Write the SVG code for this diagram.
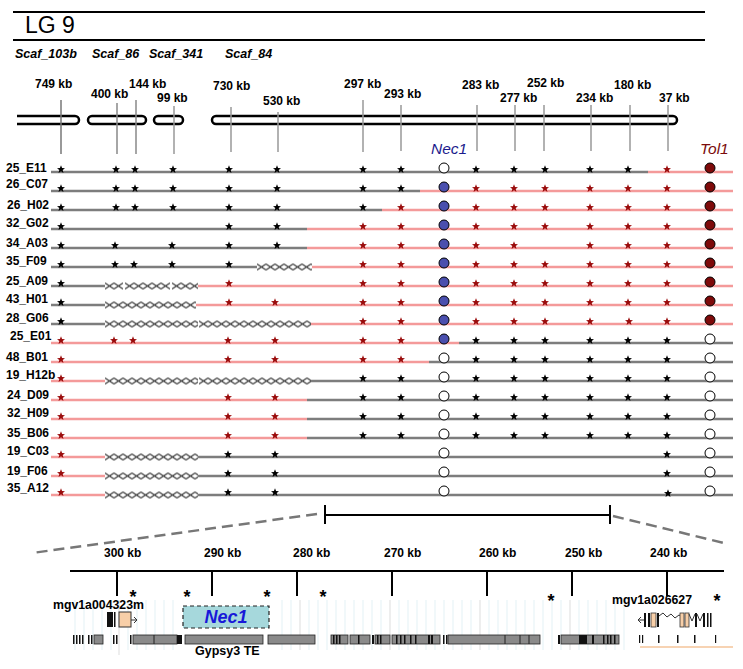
<svg xmlns="http://www.w3.org/2000/svg" width="743" height="669" viewBox="0 0 743 669">
<style>
text{font-family:"Liberation Sans",Arial,sans-serif;fill:#000}
.lb{font-size:12px;font-weight:bold}
.kb{font-size:12px;font-weight:bold}
.sc{font-size:12.5px;font-weight:bold;font-style:italic}
.g{stroke:#7d7d7d;stroke-width:2.5;fill:none}
.p{stroke:#f49a9a;stroke-width:2.5;fill:none}
.k{fill:#000}
.r{fill:#9a0c0c}
.cw{fill:#fff;stroke:#000;stroke-width:1}
.cb{fill:#4a4fae;stroke:#000;stroke-width:1}
.cr{fill:#7e0a0a;stroke:#000;stroke-width:1}
.vl{stroke:#999;stroke-width:1.5}
.bar{fill:#fff;stroke:#000;stroke-width:2.5}
.tk{stroke:#000;stroke-width:2}
.ast{font-size:18px;font-weight:bold}
.tg{fill:#8a8a8a;stroke:#222;stroke-width:0.8}
.tb{fill:#111}
.grid{stroke:#e3f1f5;stroke-width:1}
</style>
<defs>
<path id="s" d="M0,-4.2 L1.06,-1.46 L3.99,-1.3 L1.71,0.56 L2.47,3.4 L0,1.8 L-2.47,3.4 L-1.71,0.56 L-3.99,-1.3 L-1.06,-1.46 Z"/>
<pattern id="xp" patternUnits="userSpaceOnUse" width="9" height="7">
<path d="M0,0.6 L9,6.4 M0,6.4 L9,0.6" stroke="#3a3a3a" stroke-width="1.2" fill="none"/>
</pattern>
</defs>

<g id="header">
<line x1="13" y1="12" x2="705" y2="12" stroke="#000" stroke-width="2"/>
<line x1="13" y1="40" x2="705" y2="40" stroke="#000" stroke-width="2"/>
<text x="25" y="33" style="font-size:23px">LG 9</text>
</g>

<g id="scaffolds">
<text class="sc" x="15" y="58">Scaf_103b</text>
<text class="sc" x="92" y="58">Scaf_86</text>
<text class="sc" x="149" y="58">Scaf_341</text>
<text class="sc" x="225" y="58">Scaf_84</text>
<path class="bar" d="M17,116 H75 A4,4 0 0 1 75,124 H17"/>
<rect class="bar" x="88" y="116" width="58" height="8" rx="4"/>
<rect class="bar" x="154" y="116" width="29" height="8" rx="4"/>
<rect class="bar" x="212" y="116" width="465" height="8" rx="4"/>
</g>

<g id="markers">
<line class="vl" x1="61" y1="100" x2="61" y2="154" style="stroke:#777"/>
<line class="vl" x1="117" y1="103" x2="117" y2="154" style="stroke:#888"/>
<line class="vl" x1="136" y1="100" x2="136" y2="154" style="stroke:#888"/>
<line class="vl" x1="174" y1="106" x2="174" y2="154"/>
<line class="vl" x1="231" y1="107" x2="231" y2="152"/>
<line class="vl" x1="278" y1="112" x2="278" y2="152"/>
<line class="vl" x1="363" y1="100" x2="363" y2="152"/>
<line class="vl" x1="401" y1="105" x2="401" y2="151"/>
<line class="vl" x1="477" y1="105" x2="477" y2="151"/>
<line class="vl" x1="515" y1="105" x2="515" y2="151"/>
<line class="vl" x1="544" y1="105" x2="544" y2="151"/>
<line class="vl" x1="591" y1="105" x2="591" y2="151"/>
<line class="vl" x1="630" y1="105" x2="630" y2="151"/>
<line class="vl" x1="668" y1="105" x2="668" y2="151"/>
<text class="kb" x="35" y="88">749 kb</text>
<text class="kb" x="91" y="98">400 kb</text>
<text class="kb" x="129" y="88">144 kb</text>
<text class="kb" x="157" y="102">99 kb</text>
<text class="kb" x="213" y="90">730 kb</text>
<text class="kb" x="263" y="105">530 kb</text>
<text class="kb" x="344" y="88">297 kb</text>
<text class="kb" x="384" y="98">293 kb</text>
<text class="kb" x="462" y="89">283 kb</text>
<text class="kb" x="527" y="87">252 kb</text>
<text class="kb" x="500" y="102">277 kb</text>
<text class="kb" x="576" y="102">234 kb</text>
<text class="kb" x="614" y="89">180 kb</text>
<text class="kb" x="659" y="102">37 kb</text>
<text x="431" y="154" style="font-size:15.5px;font-style:italic;fill:#1b1b8c">Nec1</text>
<text x="700" y="154" style="font-size:15.5px;font-style:italic;fill:#7b0c0c">Tol1</text>
</g>

<g id="row-25_E11">
<text class="lb" x="6" y="172">25_E11</text>
<line class="g" x1="51" y1="172" x2="648" y2="172"/><line class="p" x1="648" y1="172" x2="733" y2="172"/>
<g class="k" transform="translate(0,169.5)"><use href="#s" x="61"/><use href="#s" x="116"/><use href="#s" x="135"/><use href="#s" x="173"/><use href="#s" x="229"/><use href="#s" x="277"/><use href="#s" x="363"/><use href="#s" x="401"/><use href="#s" x="476"/><use href="#s" x="514"/><use href="#s" x="545"/><use href="#s" x="590"/><use href="#s" x="628"/></g>
<g class="r" transform="translate(0,169.5)"><use href="#s" x="667"/></g>
<circle class="cw" cx="444" cy="168" r="5"/><circle class="cr" cx="710" cy="168" r="5"/>
</g>

<g id="row-26_C07">
<text class="lb" x="6" y="188">26_C07</text>
<line class="g" x1="51" y1="191" x2="420" y2="191"/><line class="p" x1="420" y1="191" x2="733" y2="191"/>
<g class="k" transform="translate(0,188.5)"><use href="#s" x="61"/><use href="#s" x="116"/><use href="#s" x="135"/><use href="#s" x="173"/><use href="#s" x="229"/><use href="#s" x="277"/><use href="#s" x="363"/><use href="#s" x="401"/></g>
<g class="r" transform="translate(0,188.5)"><use href="#s" x="476"/><use href="#s" x="514"/><use href="#s" x="545"/><use href="#s" x="590"/><use href="#s" x="628"/><use href="#s" x="667"/></g>
<circle class="cb" cx="444" cy="187" r="5"/><circle class="cr" cx="710" cy="187" r="5"/>
</g>

<g id="row-26_H02">
<text class="lb" x="7" y="209">26_H02</text>
<line class="g" x1="51" y1="210" x2="382" y2="210"/><line class="p" x1="382" y1="210" x2="733" y2="210"/>
<g class="k" transform="translate(0,207.5)"><use href="#s" x="61"/><use href="#s" x="116"/><use href="#s" x="135"/><use href="#s" x="173"/><use href="#s" x="229"/><use href="#s" x="277"/><use href="#s" x="363"/></g>
<g class="r" transform="translate(0,207.5)"><use href="#s" x="401"/><use href="#s" x="476"/><use href="#s" x="514"/><use href="#s" x="545"/><use href="#s" x="590"/><use href="#s" x="628"/><use href="#s" x="667"/></g>
<circle class="cb" cx="444" cy="206" r="5"/><circle class="cr" cx="710" cy="206" r="5"/>
</g>

<g id="row-32_G02">
<text class="lb" x="6" y="227">32_G02</text>
<line class="g" x1="51" y1="229" x2="307" y2="229"/><line class="p" x1="307" y1="229" x2="733" y2="229"/>
<g class="k" transform="translate(0,226.5)"><use href="#s" x="61"/><use href="#s" x="229"/><use href="#s" x="277"/></g>
<g class="r" transform="translate(0,226.5)"><use href="#s" x="363"/><use href="#s" x="401"/><use href="#s" x="476"/><use href="#s" x="514"/><use href="#s" x="545"/><use href="#s" x="590"/><use href="#s" x="628"/><use href="#s" x="667"/></g>
<circle class="cb" cx="444" cy="225" r="5"/><circle class="cr" cx="710" cy="225" r="5"/>
</g>

<g id="row-34_A03">
<text class="lb" x="6" y="247">34_A03</text>
<line class="g" x1="51" y1="248" x2="307" y2="248"/><line class="p" x1="307" y1="248" x2="733" y2="248"/>
<g class="k" transform="translate(0,245.5)"><use href="#s" x="61"/><use href="#s" x="115"/><use href="#s" x="172"/><use href="#s" x="229"/><use href="#s" x="277"/></g>
<g class="r" transform="translate(0,245.5)"><use href="#s" x="363"/><use href="#s" x="401"/><use href="#s" x="476"/><use href="#s" x="514"/><use href="#s" x="590"/><use href="#s" x="628"/><use href="#s" x="667"/></g>
<circle class="cb" cx="444" cy="244" r="5"/><circle class="cr" cx="710" cy="244" r="5"/>
</g>

<g id="row-35_F09">
<text class="lb" x="6" y="265">35_F09</text>
<line class="g" x1="51" y1="267" x2="257" y2="267"/>
<g transform="translate(257,263.5)"><rect width="55" height="7" fill="url(#xp)"/></g>
<line class="p" x1="312" y1="267" x2="733" y2="267"/>
<g class="k" transform="translate(0,264.5)"><use href="#s" x="61"/><use href="#s" x="115"/><use href="#s" x="134"/><use href="#s" x="172"/><use href="#s" x="229"/></g>
<g class="r" transform="translate(0,264.5)"><use href="#s" x="363"/><use href="#s" x="401"/><use href="#s" x="476"/><use href="#s" x="514"/><use href="#s" x="545"/><use href="#s" x="590"/><use href="#s" x="628"/><use href="#s" x="667"/></g>
<circle class="cb" cx="444" cy="263" r="5"/><circle class="cr" cx="710" cy="263" r="5"/>
</g>

<g id="row-25_A09">
<text class="lb" x="6" y="285">25_A09</text>
<line class="g" x1="51" y1="286" x2="105" y2="286"/>
<g transform="translate(105,282.5)"><rect width="18" height="7" fill="url(#xp)"/></g>
<g transform="translate(125,282.5)"><rect width="45" height="7" fill="url(#xp)"/></g>
<g transform="translate(172,282.5)"><rect width="26" height="7" fill="url(#xp)"/></g>
<line class="p" x1="198" y1="286" x2="733" y2="286"/>
<g class="k" transform="translate(0,283.5)"><use href="#s" x="61"/></g>
<g class="r" transform="translate(0,283.5)"><use href="#s" x="229"/><use href="#s" x="363"/><use href="#s" x="401"/><use href="#s" x="476"/><use href="#s" x="514"/><use href="#s" x="545"/><use href="#s" x="590"/><use href="#s" x="628"/><use href="#s" x="667"/></g>
<circle class="cb" cx="444" cy="282" r="5"/><circle class="cr" cx="710" cy="282" r="5"/>
</g>

<g id="row-43_H01">
<text class="lb" x="6" y="303">43_H01</text>
<line class="g" x1="51" y1="305" x2="105" y2="305"/>
<g transform="translate(105,301.5)"><rect width="91" height="7" fill="url(#xp)"/></g>
<line class="p" x1="196" y1="305" x2="733" y2="305"/>
<g class="k" transform="translate(0,302.5)"><use href="#s" x="61"/></g>
<g class="r" transform="translate(0,302.5)"><use href="#s" x="229"/><use href="#s" x="275"/><use href="#s" x="363"/><use href="#s" x="401"/><use href="#s" x="476"/><use href="#s" x="514"/><use href="#s" x="545"/><use href="#s" x="590"/><use href="#s" x="628"/><use href="#s" x="667"/></g>
<circle class="cb" cx="444" cy="301" r="5"/><circle class="cr" cx="710" cy="301" r="5"/>
</g>

<g id="row-28_G06">
<text class="lb" x="6" y="322">28_G06</text>
<line class="g" x1="51" y1="324" x2="105" y2="324"/>
<g transform="translate(105,320.5)"><rect width="93" height="7" fill="url(#xp)"/></g>
<g transform="translate(199,320.5)"><rect width="112" height="7" fill="url(#xp)"/></g>
<line class="p" x1="311" y1="324" x2="733" y2="324"/>
<g class="k" transform="translate(0,321.5)"><use href="#s" x="61"/></g>
<g class="r" transform="translate(0,321.5)"><use href="#s" x="363"/><use href="#s" x="401"/><use href="#s" x="476"/><use href="#s" x="514"/><use href="#s" x="545"/><use href="#s" x="590"/><use href="#s" x="629"/><use href="#s" x="667"/></g>
<circle class="cb" cx="444" cy="320" r="5"/><circle class="cr" cx="710" cy="320" r="5"/>
</g>

<g id="row-25_E01">
<text class="lb" x="10" y="340">25_E01</text>
<line class="p" x1="51" y1="343" x2="459" y2="343"/><line class="g" x1="459" y1="343" x2="733" y2="343"/>
<g class="r" transform="translate(0,340.5)"><use href="#s" x="61"/><use href="#s" x="114"/><use href="#s" x="133"/><use href="#s" x="228"/><use href="#s" x="275"/><use href="#s" x="363"/><use href="#s" x="401"/></g>
<g class="k" transform="translate(0,340.5)"><use href="#s" x="476"/><use href="#s" x="514"/><use href="#s" x="545"/><use href="#s" x="590"/><use href="#s" x="628"/><use href="#s" x="667"/></g>
<circle class="cb" cx="444" cy="339" r="5"/><circle class="cw" cx="710" cy="339" r="5"/>
</g>

<g id="row-48_B01">
<text class="lb" x="6" y="361">48_B01</text>
<line class="p" x1="51" y1="362" x2="429" y2="362"/><line class="g" x1="429" y1="362" x2="733" y2="362"/>
<g class="r" transform="translate(0,359.5)"><use href="#s" x="61"/><use href="#s" x="228"/><use href="#s" x="275"/><use href="#s" x="363"/><use href="#s" x="401"/></g>
<g class="k" transform="translate(0,359.5)"><use href="#s" x="476"/><use href="#s" x="514"/><use href="#s" x="545"/><use href="#s" x="590"/><use href="#s" x="628"/><use href="#s" x="667"/></g>
<circle class="cw" cx="444" cy="358" r="5"/><circle class="cw" cx="710" cy="358" r="5"/>
</g>

<g id="row-19_H12b">
<text class="lb" x="6" y="379">19_H12b</text>
<line class="p" x1="51" y1="381" x2="105" y2="381"/>
<g transform="translate(105,377.5)"><rect width="93" height="7" fill="url(#xp)"/></g>
<g transform="translate(199,377.5)"><rect width="112" height="7" fill="url(#xp)"/></g>
<line class="g" x1="311" y1="381" x2="733" y2="381"/>
<g class="r" transform="translate(0,378.5)"><use href="#s" x="61"/></g>
<g class="k" transform="translate(0,378.5)"><use href="#s" x="363"/><use href="#s" x="401"/><use href="#s" x="476"/><use href="#s" x="514"/><use href="#s" x="545"/><use href="#s" x="590"/><use href="#s" x="628"/><use href="#s" x="667"/></g>
<circle class="cw" cx="444" cy="377" r="5"/><circle class="cw" cx="710" cy="377" r="5"/>
</g>

<g id="row-24_D09">
<text class="lb" x="7" y="399">24_D09</text>
<line class="p" x1="51" y1="400" x2="307" y2="400"/><line class="g" x1="307" y1="400" x2="733" y2="400"/>
<g class="r" transform="translate(0,397.5)"><use href="#s" x="61"/><use href="#s" x="228"/><use href="#s" x="275"/></g>
<g class="k" transform="translate(0,397.5)"><use href="#s" x="363"/><use href="#s" x="401"/><use href="#s" x="476"/><use href="#s" x="514"/><use href="#s" x="545"/><use href="#s" x="590"/><use href="#s" x="628"/><use href="#s" x="667"/></g>
<circle class="cw" cx="444" cy="396" r="5"/><circle class="cw" cx="710" cy="396" r="5"/>
</g>

<g id="row-32_H09">
<text class="lb" x="7" y="417">32_H09</text>
<line class="p" x1="51" y1="419" x2="307" y2="419"/><line class="g" x1="307" y1="419" x2="733" y2="419"/>
<g class="r" transform="translate(0,416.5)"><use href="#s" x="61"/><use href="#s" x="228"/><use href="#s" x="275"/></g>
<g class="k" transform="translate(0,416.5)"><use href="#s" x="363"/><use href="#s" x="401"/><use href="#s" x="476"/><use href="#s" x="514"/><use href="#s" x="545"/><use href="#s" x="590"/><use href="#s" x="628"/><use href="#s" x="667"/></g>
<circle class="cw" cx="444" cy="415" r="5"/><circle class="cw" cx="710" cy="415" r="5"/>
</g>

<g id="row-35_B06">
<text class="lb" x="7" y="437">35_B06</text>
<line class="p" x1="51" y1="438" x2="307" y2="438"/><line class="g" x1="307" y1="438" x2="733" y2="438"/>
<g class="r" transform="translate(0,435.5)"><use href="#s" x="61"/><use href="#s" x="228"/><use href="#s" x="275"/></g>
<g class="k" transform="translate(0,435.5)"><use href="#s" x="363"/><use href="#s" x="401"/><use href="#s" x="476"/><use href="#s" x="514"/><use href="#s" x="545"/><use href="#s" x="590"/><use href="#s" x="628"/><use href="#s" x="667"/></g>
<circle class="cw" cx="444" cy="434" r="5"/><circle class="cw" cx="710" cy="434" r="5"/>
</g>

<g id="row-19_C03">
<text class="lb" x="7" y="455">19_C03</text>
<line class="p" x1="51" y1="457" x2="105" y2="457"/>
<g transform="translate(105,453.5)"><rect width="93" height="7" fill="url(#xp)"/></g>
<line class="g" x1="198" y1="457" x2="733" y2="457"/>
<g class="r" transform="translate(0,454.5)"><use href="#s" x="61"/></g>
<g class="k" transform="translate(0,454.5)"><use href="#s" x="228"/><use href="#s" x="275"/><use href="#s" x="667"/></g>
<circle class="cw" cx="444" cy="453" r="5"/><circle class="cw" cx="710" cy="453" r="5"/>
</g>

<g id="row-19_F06">
<text class="lb" x="7" y="475">19_F06</text>
<line class="p" x1="51" y1="476" x2="105" y2="476"/>
<g transform="translate(105,472.5)"><rect width="93" height="7" fill="url(#xp)"/></g>
<line class="g" x1="198" y1="476" x2="733" y2="476"/>
<g class="r" transform="translate(0,473.5)"><use href="#s" x="61"/></g>
<g class="k" transform="translate(0,473.5)"><use href="#s" x="228"/><use href="#s" x="275"/><use href="#s" x="667"/></g>
<circle class="cw" cx="444" cy="472" r="5"/><circle class="cw" cx="710" cy="472" r="5"/>
</g>

<g id="row-35_A12">
<text class="lb" x="7" y="492">35_A12</text>
<line class="p" x1="51" y1="495" x2="105" y2="495"/>
<g transform="translate(105,491.5)"><rect width="93" height="7" fill="url(#xp)"/></g>
<line class="g" x1="198" y1="495" x2="733" y2="495"/>
<g class="r" transform="translate(0,492.5)"><use href="#s" x="61"/></g>
<g class="k" transform="translate(0,492.5)"><use href="#s" x="228"/><use href="#s" x="275"/><use href="#s" x="668" y="1"/></g>
<circle class="cw" cx="444" cy="491" r="5"/><circle class="cw" cx="710" cy="491" r="5"/>
</g>

<g id="connectors">
<line x1="325" y1="515" x2="610" y2="515" stroke="#000" stroke-width="2"/>
<line x1="325" y1="505" x2="325" y2="524" stroke="#000" stroke-width="2"/>
<line x1="610" y1="505" x2="610" y2="524" stroke="#000" stroke-width="2"/>
<line x1="317" y1="514" x2="32" y2="553" stroke="#777" stroke-width="2.5" stroke-dasharray="11 6"/>
<line x1="613" y1="516" x2="724" y2="543" stroke="#777" stroke-width="2.5" stroke-dasharray="11 6"/>
</g>

<g id="inset-axis">
<g>
<line class="grid" x1="75" y1="600" x2="75" y2="650"/><line class="grid" x1="84" y1="600" x2="84" y2="650"/><line class="grid" x1="93" y1="600" x2="93" y2="650"/><line class="grid" x1="102" y1="600" x2="102" y2="650"/><line class="grid" x1="111" y1="600" x2="111" y2="650"/><line class="grid" x1="128" y1="600" x2="128" y2="650"/><line class="grid" x1="137" y1="600" x2="137" y2="650"/><line class="grid" x1="146" y1="600" x2="146" y2="650"/><line class="grid" x1="155" y1="600" x2="155" y2="650"/><line class="grid" x1="164" y1="600" x2="164" y2="650"/><line class="grid" x1="173" y1="600" x2="173" y2="650"/>
<line class="grid" x1="282" y1="600" x2="282" y2="650"/><line class="grid" x1="291" y1="600" x2="291" y2="650"/><line class="grid" x1="309" y1="600" x2="309" y2="650"/><line class="grid" x1="318" y1="600" x2="318" y2="650"/><line class="grid" x1="327" y1="600" x2="327" y2="650"/><line class="grid" x1="336" y1="600" x2="336" y2="650"/><line class="grid" x1="345" y1="600" x2="345" y2="650"/><line class="grid" x1="354" y1="600" x2="354" y2="650"/><line class="grid" x1="363" y1="600" x2="363" y2="650"/><line class="grid" x1="372" y1="600" x2="372" y2="650"/><line class="grid" x1="381" y1="600" x2="381" y2="650"/><line class="grid" x1="399" y1="600" x2="399" y2="650"/><line class="grid" x1="408" y1="600" x2="408" y2="650"/><line class="grid" x1="417" y1="600" x2="417" y2="650"/><line class="grid" x1="426" y1="600" x2="426" y2="650"/><line class="grid" x1="435" y1="600" x2="435" y2="650"/><line class="grid" x1="444" y1="600" x2="444" y2="650"/><line class="grid" x1="453" y1="600" x2="453" y2="650"/><line class="grid" x1="462" y1="600" x2="462" y2="650"/><line class="grid" x1="471" y1="600" x2="471" y2="650"/><line class="grid" x1="489" y1="600" x2="489" y2="650"/><line class="grid" x1="498" y1="600" x2="498" y2="650"/><line class="grid" x1="507" y1="600" x2="507" y2="650"/><line class="grid" x1="516" y1="600" x2="516" y2="650"/><line class="grid" x1="525" y1="600" x2="525" y2="650"/><line class="grid" x1="534" y1="600" x2="534" y2="650"/><line class="grid" x1="543" y1="600" x2="543" y2="650"/><line class="grid" x1="552" y1="600" x2="552" y2="650"/><line class="grid" x1="561" y1="600" x2="561" y2="650"/><line class="grid" x1="579" y1="600" x2="579" y2="650"/><line class="grid" x1="588" y1="600" x2="588" y2="650"/><line class="grid" x1="597" y1="600" x2="597" y2="650"/><line class="grid" x1="606" y1="600" x2="606" y2="650"/><line class="grid" x1="615" y1="600" x2="615" y2="650"/><line class="grid" x1="624" y1="600" x2="624" y2="650"/>
<line x1="119" y1="600" x2="119" y2="655" stroke="#ddd"/><line x1="300" y1="600" x2="300" y2="650" stroke="#ddd"/><line x1="390" y1="600" x2="390" y2="650" stroke="#ddd"/><line x1="480" y1="600" x2="480" y2="650" stroke="#ddd"/><line x1="570" y1="600" x2="570" y2="650" stroke="#ddd"/>
</g>
<line x1="70" y1="571" x2="724" y2="571" stroke="#000" stroke-width="2"/>
<line class="tk" x1="117" y1="571" x2="117" y2="596"/>
<line class="tk" x1="212" y1="571" x2="212" y2="596"/>
<line class="tk" x1="297" y1="571" x2="297" y2="596"/>
<line class="tk" x1="392" y1="571" x2="392" y2="596"/>
<line class="tk" x1="487" y1="571" x2="487" y2="596"/>
<line class="tk" x1="572" y1="571" x2="572" y2="596"/>
<line class="tk" x1="667" y1="571" x2="667" y2="596"/>
<text class="kb" x="104" y="557">300 kb</text>
<text class="kb" x="204" y="557">290 kb</text>
<text class="kb" x="293" y="557">280 kb</text>
<text class="kb" x="384" y="557">270 kb</text>
<text class="kb" x="479" y="557">260 kb</text>
<text class="kb" x="565" y="557">250 kb</text>
<text class="kb" x="650" y="557">240 kb</text>
<g text-anchor="middle">
<text class="ast" x="133" y="603">*</text>
<text class="ast" x="187" y="603">*</text>
<text class="ast" x="267" y="603">*</text>
<text class="ast" x="323" y="603">*</text>
<text class="ast" x="551" y="607">*</text>
<text class="ast" x="717" y="607">*</text>
</g>
</g>

<g id="gene-mgv1a004323m">
<text x="53" y="609" style="font-size:12.3px;font-weight:bold">mgv1a004323m</text>
<rect class="tb" x="107" y="612" width="6" height="15"/>
<rect class="tb" x="114" y="612" width="1.5" height="15"/>
<rect x="119" y="612" width="12" height="15" fill="#f8cfa8" stroke="#333" stroke-width="1"/>
<path d="M131,620 H137 M134,617 L137,620 L134,623" stroke="#333" stroke-width="1" fill="none"/>
</g>

<g id="gene-Nec1">
<rect x="183" y="606" width="86" height="22" fill="#a6d8dc" stroke="#222" stroke-width="1.2" stroke-dasharray="4 3"/>
<text x="226" y="623" text-anchor="middle" style="font-size:18px;font-weight:bold;font-style:italic;fill:#1818d8">Nec1</text>
</g>

<g id="gene-mgv1a026627">
<text x="612" y="604" style="font-size:12.3px;font-weight:bold">mgv1a026627</text>
<path d="M645,620 H638 M641,617 L638,620 L641,623" stroke="#333" stroke-width="1" fill="none"/>
<rect class="tb" x="644" y="613" width="2" height="14"/>
<rect class="tb" x="648" y="613" width="2" height="14"/>
<rect x="651" y="613" width="5" height="14" fill="#f8cfa8" stroke="#333" stroke-width="0.8"/>
<rect class="tb" x="657" y="613" width="2" height="14"/>
<polyline points="659,616 663,613 667,617 671,614 675,618 679,615 681,616" stroke="#333" stroke-width="1" fill="none"/>
<rect x="680" y="613" width="4" height="14" fill="#f8cfa8" stroke="#333" stroke-width="0.8"/>
<rect x="685" y="613" width="4" height="14" fill="#f8cfa8" stroke="#333" stroke-width="0.8"/>
<polyline points="689,614 692,621 695,614" stroke="#333" stroke-width="1" fill="none"/>
<rect class="tb" x="695" y="613" width="2" height="14"/>
<polyline points="697,614 700,621 703,614" stroke="#333" stroke-width="1" fill="none"/>
<rect class="tb" x="703" y="613" width="2" height="14"/>
<rect class="tb" x="707" y="613" width="1.5" height="14"/>
<rect class="tb" x="710" y="613" width="1.5" height="14"/>
</g>

<g id="repeat-track">
<rect class="tb" x="73" y="635" width="1.5" height="9"/><rect class="tb" x="76" y="635" width="1.5" height="9"/><rect class="tb" x="79" y="635" width="1.5" height="9"/><rect class="tb" x="82" y="635" width="1.5" height="9"/>
<rect class="tb" x="88" y="635" width="1.5" height="9"/><rect class="tb" x="91" y="635" width="1.5" height="9"/>
<rect class="tg" x="94" y="635" width="9" height="9"/>
<rect class="tb" x="113" y="635" width="1.5" height="9"/><rect class="tb" x="116" y="635" width="1.5" height="9"/>
<rect class="tb" x="130" y="635" width="1.5" height="9"/>
<rect class="tg" x="133" y="635" width="44" height="9"/><line x1="154" y1="635" x2="154" y2="644" stroke="#222"/>
<rect class="tb" x="177" y="635" width="5" height="9"/>
<rect class="tg" x="185" y="635" width="78" height="9"/>
<rect class="tg" x="268" y="635" width="47" height="9"/>
<rect class="tg" x="331" y="635" width="17" height="9"/><rect class="tb" x="333" y="635" width="1.5" height="9"/><rect class="tb" x="336" y="635" width="1.5" height="9"/><rect class="tb" x="339" y="635" width="1.5" height="9"/>
<rect class="tg" x="350" y="635" width="20" height="9"/><rect class="tb" x="358" y="635" width="1.5" height="9"/>
<rect class="tb" x="372" y="635" width="2" height="9"/>
<rect class="tg" x="375" y="635" width="15" height="9"/><rect class="tb" x="377" y="635" width="1.5" height="9"/><rect class="tb" x="380" y="635" width="1.5" height="9"/>
<rect class="tg" x="392" y="635" width="48" height="9"/><rect class="tb" x="396" y="635" width="1.5" height="9"/><rect class="tb" x="400" y="635" width="1.5" height="9"/><rect class="tb" x="404" y="635" width="1.5" height="9"/><rect class="tb" x="410" y="635" width="1.5" height="9"/><rect class="tb" x="415" y="635" width="1.5" height="9"/><rect class="tb" x="428" y="635" width="2" height="9"/><rect class="tb" x="431" y="635" width="2" height="9"/>
<rect class="tb" x="443" y="635" width="1.5" height="9"/><rect class="tb" x="446" y="635" width="1.5" height="9"/>
<rect class="tg" x="448" y="635" width="92" height="9"/><line x1="505" y1="635" x2="505" y2="644" stroke="#222"/><line x1="520" y1="635" x2="520" y2="644" stroke="#222"/><line x1="529" y1="635" x2="529" y2="644" stroke="#222"/>
<rect class="tb" x="558" y="635" width="2" height="9"/>
<rect class="tg" x="561" y="635" width="58" height="9"/><rect class="tb" x="579" y="635" width="8" height="9"/><rect class="tb" x="592" y="635" width="2" height="9"/><rect class="tb" x="603" y="635" width="1.5" height="9"/><rect class="tb" x="607" y="635" width="1.5" height="9"/><rect class="tb" x="610" y="635" width="1.5" height="9"/><rect class="tb" x="614" y="635" width="1.5" height="9"/>
<rect class="tb" x="639" y="635" width="1.2" height="8"/><rect class="tb" x="642" y="635" width="1.2" height="8"/><rect class="tb" x="658" y="635" width="1.5" height="8"/><rect class="tb" x="677" y="635" width="1.5" height="8"/><rect class="tb" x="694" y="635" width="1.5" height="8"/><rect class="tb" x="715" y="635" width="1.2" height="8"/>
<line x1="640" y1="647" x2="733" y2="647" stroke="#f4c49a" stroke-width="1.5"/>
<text x="195" y="655" style="font-size:12.5px;font-weight:bold">Gypsy3 TE</text>
</g>
</svg>
